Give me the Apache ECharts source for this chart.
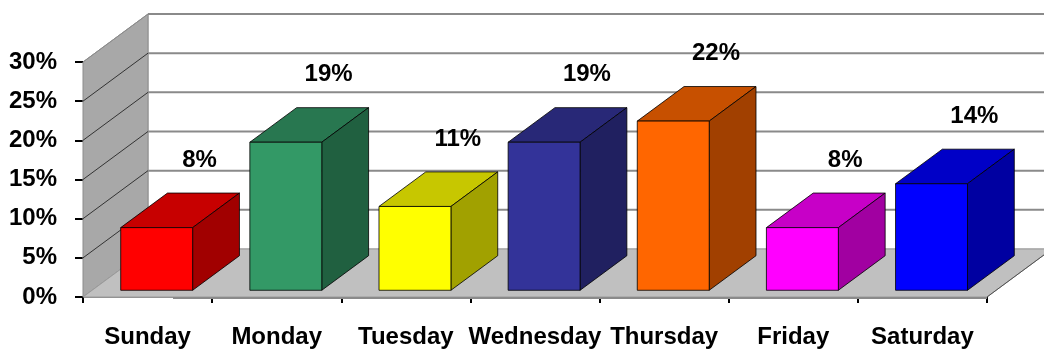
<!DOCTYPE html>
<html>
<head>
<meta charset="utf-8">
<script src="https://cdn.jsdelivr.net/npm/echarts@6/dist/echarts.min.js"></script>
<style>
  html, body { margin: 0; padding: 0; background: #ffffff; }
  #chart { width: 1044px; height: 350px; }
</style>
</head>
<body>
<div id="chart"></div>
<script>
// Share of visits per weekday
const days = ['Sunday', 'Monday', 'Tuesday', 'Wednesday', 'Thursday', 'Friday', 'Saturday'];
const shares = [0.080, 0.189, 0.107, 0.189, 0.216, 0.080, 0.136];
const barColors = ['#FF0000', '#339966', '#FFFF00', '#333399', '#FF6600', '#FF00FF', '#0000FF'];
const yTicks = [0, 0.05, 0.10, 0.15, 0.20, 0.25, 0.30];

// Oblique projection of the depth axis (pixels for the full room depth)
const DEPTH = { x: 65, y: -48 };
const BAR_FRONT = 0.14;   // depth fraction where a bar's front face sits
const BAR_BACK = 0.86;    // depth fraction of a bar's back face
const BAR_WIDTH = 0.557;  // fraction of a category band
const FONT = '"Liberation Sans", Arial, sans-serif';
const FONT_SIZE = 24;

function shade(hex, k) {
  const n = parseInt(hex.slice(1), 16);
  const r = Math.round(((n >> 16) & 255) * k);
  const g = Math.round(((n >> 8) & 255) * k);
  const b = Math.round((n & 255) * k);
  return 'rgb(' + r + ',' + g + ',' + b + ')';
}

function pct(v) { return Math.round(v * 100) + '%'; }

// Side wall, back wall, floor and gridlines of the 3D room
function renderRoom(params, api) {
  const band = api.size([1, 0])[0];
  const first = api.coord([0, 0]);
  const last = api.coord([days.length - 1, 0]);
  const x0 = first[0] - band / 2;
  const x1 = last[0] + band / 2;
  const y0 = first[1];
  const yTop = api.coord([0, yTicks[yTicks.length - 1]])[1];
  const dx = DEPTH.x, dy = DEPTH.y;
  const children = [];

  children.push({
    type: 'polygon',
    shape: { points: [[x0 + dx, yTop + dy], [x1 + dx, yTop + dy], [x1 + dx, y0 + dy], [x0 + dx, y0 + dy]] },
    style: { fill: '#ffffff', stroke: '#a0a0a0', lineWidth: 1 }
  });
  children.push({
    type: 'polygon',
    shape: { points: [[x0, y0], [x0, yTop], [x0 + dx, yTop + dy], [x0 + dx, y0 + dy]] },
    style: { fill: '#a8a8a8', stroke: '#8c8c8c', lineWidth: 1 }
  });
  children.push({
    type: 'polygon',
    shape: { points: [[x0, y0], [x1, y0], [x1 + dx, y0 + dy], [x0 + dx, y0 + dy]] },
    style: { fill: '#c0c0c0', stroke: '#9a9a9a', lineWidth: 1 }
  });
  children.push({
    type: 'line',
    shape: { x1: x1, y1: y0, x2: x1 + dx, y2: y0 + dy },
    style: { stroke: '#505050', lineWidth: 1 }
  });
  children.push({
    type: 'line',
    shape: { x1: x0 + 90, y1: y0 + 1, x2: x1, y2: y0 + 1 },
    style: { stroke: '#8a8a8a', lineWidth: 2 }
  });

  yTicks.forEach(function (t) {
    if (t === 0) return;
    const y = api.coord([0, t])[1];
    const top = t === yTicks[yTicks.length - 1];
    children.push({
      type: 'line',
      shape: { x1: x0, y1: y, x2: x0 + dx, y2: y + dy },
      style: { stroke: top ? '#8c8c8c' : '#333333', lineWidth: 1 }
    });
    children.push({
      type: 'line',
      shape: { x1: x0 + dx, y1: y + dy, x2: x1 + dx, y2: y + dy },
      style: { stroke: '#8a8a8a', lineWidth: 2 }
    });
  });

  return { type: 'group', children: children };
}

// One shaded box per weekday with its value above
function renderBar(params, api) {
  const i = api.value(0);
  const v = api.value(1);
  const base = api.coord([i, 0]);
  const head = api.coord([i, v]);
  const w = api.size([1, 0])[0] * BAR_WIDTH;
  const fx = DEPTH.x * BAR_FRONT, fy = DEPTH.y * BAR_FRONT;
  const bx = DEPTH.x * (BAR_BACK - BAR_FRONT), by = DEPTH.y * (BAR_BACK - BAR_FRONT);
  const l = base[0] - w / 2 + fx, r = base[0] + w / 2 + fx;
  const b = base[1] + fy, t = head[1] + fy;
  const c = barColors[i];
  const edge = { stroke: 'rgba(0,0,0,0.8)', lineWidth: 1 };

  return {
    type: 'group',
    children: [
      {
        type: 'polygon',
        shape: { points: [[l, t], [r, t], [r + bx, t + by], [l + bx, t + by]] },
        style: Object.assign({ fill: shade(c, 0.78) }, edge)
      },
      {
        type: 'polygon',
        shape: { points: [[r, t], [r + bx, t + by], [r + bx, b + by], [r, b]] },
        style: Object.assign({ fill: shade(c, 0.63) }, edge)
      },
      {
        type: 'rect',
        shape: { x: l, y: t, width: r - l, height: b - t },
        style: Object.assign({ fill: c }, edge)
      },
      {
        type: 'text',
        x: (l + r) / 2 + bx - 4,
        y: t + by - 33,
        style: {
          text: pct(v),
          fill: '#000000',
          fontSize: FONT_SIZE,
          fontWeight: 'bold',
          fontFamily: FONT,
          align: 'center',
          verticalAlign: 'middle'
        }
      }
    ]
  };
}

const chart = echarts.init(document.getElementById('chart'), null, { renderer: 'canvas' });

chart.setOption({
  animation: false,
  backgroundColor: '#ffffff',
  grid: { left: 83, right: 57, top: 62, bottom: 53, containLabel: false },
  xAxis: {
    type: 'category',
    data: days,
    axisLine: { show: true, lineStyle: { color: '#8c8c8c', width: 1 } },
    axisTick: { show: true, length: 6, lineStyle: { color: '#000000', width: 2 } },
    axisLabel: {
      interval: 0, margin: 28, color: '#000000',
      fontSize: FONT_SIZE, fontWeight: 'bold', fontFamily: FONT
    },
    splitLine: { show: false }
  },
  yAxis: {
    type: 'value',
    min: 0,
    max: yTicks[yTicks.length - 1],
    interval: yTicks[1] - yTicks[0],
    axisLine: { show: true, lineStyle: { color: '#000000', width: 1 } },
    axisTick: { show: true, length: 8, lineStyle: { color: '#000000', width: 2 } },
    axisLabel: {
      margin: 26, color: '#000000',
      fontSize: FONT_SIZE, fontWeight: 'bold', fontFamily: FONT,
      formatter: function (v) { return pct(v); }
    },
    splitLine: { show: false }
  },
  series: [
    {
      type: 'custom',
      name: 'room',
      silent: true,
      z: 1,
      renderItem: renderRoom,
      data: [[0, 0]]
    },
    {
      type: 'custom',
      name: 'share',
      z: 3,
      renderItem: renderBar,
      encode: { x: 0, y: 1 },
      data: shares.map(function (v, i) { return [i, v]; })
    }
  ]
});
</script>
</body>
</html>
